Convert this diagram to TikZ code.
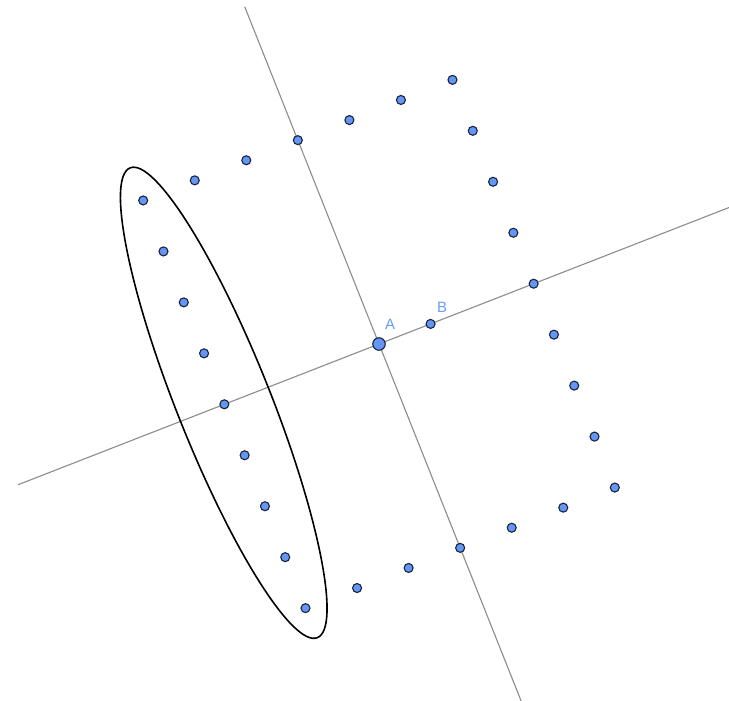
\documentclass[tikz,border=0pt]{standalone}
\usepackage{fontspec}
\setsansfont{Liberation Sans}
\definecolor{ptfill}{RGB}{100,150,245}
\definecolor{ptedge}{RGB}{25,35,60}
\definecolor{axisgray}{RGB}{140,140,140}
\definecolor{lblblue}{RGB}{110,155,245}
\tikzset{
  dot/.style={circle,fill=ptfill,draw=ptedge,line width=1.1pt,minimum size=9pt,inner sep=0pt},
  bigdot/.style={dot,minimum size=12.5pt},
  axisline/.style={draw=axisgray,line width=1.1pt},
  lbl/.style={text=lblblue,font=\fontsize{15}{15}\selectfont\sffamily,inner sep=0pt}
}
\begin{document}
\begin{tikzpicture}
\useasboundingbox (0pt,0pt) rectangle (729pt,-701pt);
\fill[white] (0pt,0pt) rectangle (729pt,-701pt);
\begin{scope}[shift={(379pt,-344pt)}, x={(51.55pt,20.1pt)}, y={(20.29pt,-50.96pt)}]
  % axes
  \coordinate (uL) at (-7,0);
  \coordinate (uR) at (6.85,0);
  \coordinate (vT) at (0,-6.62);
  \coordinate (vB) at (0,7.05);
  \draw[axisline] (uL) -- (uR);
  \draw[axisline] (vT) -- (vB);
  % ellipse
  \draw[black,line width=1.6pt] (-3,-0.03) ellipse [x radius=0.85, y radius=4.61];
  % boundary points
  \foreach \k in {-4,...,4} {
    \node[dot] (l\k) at (-3,\k) {};
    \node[dot] (r\k) at (3,\k) {};
  }
  \foreach \j in {-2,...,2} {
    \node[dot] (t\j) at (\j,-4) {};
    \node[dot] (b\j) at (\j,4) {};
  }
  \node[dot] (B) at (1,0) {};
  \node[bigdot] (A) at (0,0) {};
\end{scope}
\node[lbl] (Alab) at (390pt,-324pt) {A};
\node[lbl] (Blab) at (442pt,-307pt) {B};
\end{tikzpicture}
\end{document}
